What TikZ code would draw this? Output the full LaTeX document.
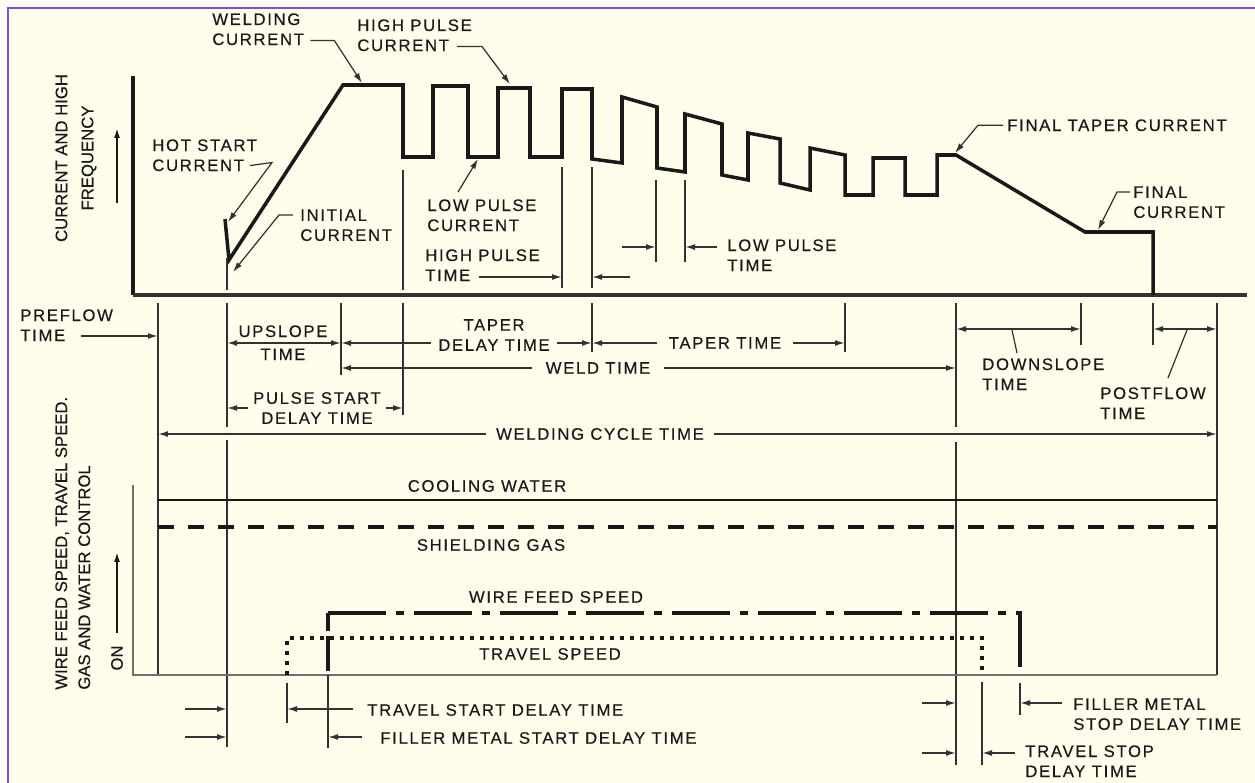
\documentclass[tikz,border=0pt]{standalone}
\usepackage{fontspec}
\setmainfont[FakeBold=0.3]{Liberation Sans}
\newfontfamily\wideface[LetterSpace=10,FakeBold=0.3]{Liberation Sans}
\usetikzlibrary{arrows.meta,positioning,calc}
\definecolor{paper}{RGB}{255,253,235}
\definecolor{frame}{RGB}{130,80,200}
\definecolor{ink}{RGB}{25,25,25}
\definecolor{rule}{RGB}{50,50,50}
\definecolor{axisgray}{RGB}{110,110,110}

\begin{document}
\begin{tikzpicture}[x=0.02cm, y=-0.02cm,
    >={Latex[length=2mm,width=1.2mm]},
    lbl/.style={font=\wideface\fontsize{9.5}{11.4}\selectfont, text=ink, inner sep=0pt, align=left},
    ctr/.style={lbl, align=center},
    gaplbl/.style={ctr, fill=paper, inner ysep=1pt, inner xsep=4pt},
    axlbl/.style={font=\fontsize{9.5}{11.4}\selectfont, text=ink, inner sep=0pt, rotate=90},
    wave/.style={line width=2pt, ink, line join=miter},
    guide/.style={line width=0.9pt, rule},
    dim/.style={line width=0.9pt, rule, <->},
    ptr/.style={line width=0.9pt, rule, <-},
    lead/.style={line width=0.7pt, rule}
]
\useasboundingbox (0,0) rectangle (1255,783);
\fill[white] (0,0) rectangle (1255,783);
\fill[paper] (8,8) rectangle (1255,783);
\draw[frame, line width=1.6pt] (8,783) -- (8,8) -- (1255,8);

% time marks
\coordinate (xPre) at (158,0);
\coordinate (xHot) at (227,0);
\coordinate (xUp) at (341,0);
\coordinate (xPulse) at (403,0);
\coordinate (xHigh) at (562,0);
\coordinate (xTaper) at (592,0);
\coordinate (xLowA) at (656,0);
\coordinate (xLowB) at (685,0);
\coordinate (xTaperEnd) at (845,0);
\coordinate (xDown) at (956,0);
\coordinate (xDownEnd) at (1081,0);
\coordinate (xOff) at (1153,0);
\coordinate (xPost) at (1217,0);
\coordinate (xTrvOn) at (287,0);
\coordinate (xWireOn) at (328,0);
\coordinate (xTrvOff) at (982,0);
\coordinate (xWireOff) at (1020,0);

% current chart
\draw[line width=1.8pt, ink] (133,76) -- (133,295);
\draw[line width=1.8pt, rule] (133,295) -- (1247,295);
\node[axlbl, align=center] (curax) at (76,158) {CURRENT AND HIGH\\[0.12cm]FREQUENCY};
\draw[->, line width=1pt, ink] (117,203) -- (117,128);

\draw[wave] (225,219) -- (229,260) -- (343,85) -- (403,85) -- (403,157) -- (433,157)
  -- (433,86) -- (468,86) -- (468,157) -- (498,157) -- (498,88) -- (530,88)
  -- (530,157) -- (562,157) -- (562,89) -- (592,89) -- (592,159) -- (622,163)
  -- (622,97) -- (657,107) -- (657,168) -- (685,172) -- (685,114) -- (722,124)
  -- (722,175) -- (748,180) -- (748,133) -- (780,139) -- (780,183) -- (810,190)
  -- (810,148) -- (845,155) -- (845,195) -- (873,195) -- (873,158) -- (905,158)
  -- (905,195) -- (937,195) -- (937,155) -- (956,155) -- (1085,232) -- (1153,232)
  -- (1153,295);

\coordinate (tipWeld) at (362,83);
\coordinate (tipHigh) at (510,84);
\coordinate (tipHot) at (228,222);
\coordinate (tipInit) at (233,272);
\coordinate (tipLow) at (478,159);
\coordinate (tipFinTaper) at (955,153);
\coordinate (tipFinal) at (1098,230);

\draw[guide] (xHot |- 0,258) -- (xHot |- 0,290);
\draw[guide] (xPulse |- 0,170) -- (xPulse |- 0,290);
\draw[guide] (xHigh |- 0,167) -- (xHigh |- 0,288);
\draw[guide] (xTaper |- 0,167) -- (xTaper |- 0,288);
\draw[guide] (xLowA |- 0,180) -- (xLowA |- 0,262);
\draw[guide] (xLowB |- 0,180) -- (xLowB |- 0,262);

\node[lbl, anchor=north west] (wc) at (212,13) {WELDING\\CURRENT};
\node[lbl, anchor=north west] (hpc) at (357,19) {HIGH PULSE\\CURRENT};
\node[lbl, anchor=north west] (hsc) at (152,139) {HOT START\\CURRENT};
\node[lbl, anchor=north west] (ic) at (300,209) {INITIAL\\CURRENT};
\node[lbl, anchor=north west] (lpc) at (427,199) {LOW PULSE\\CURRENT};
\node[lbl, anchor=north west] (hpt) at (425,249) {HIGH PULSE\\TIME};
\node[lbl, anchor=north west] (lpt) at (727,239) {LOW PULSE\\TIME};
\node[lbl, anchor=north west] (ftc) at (1007,119) {FINAL TAPER CURRENT};
\node[lbl, anchor=north west] (fc) at (1133,186) {FINAL\\CURRENT};

\draw[lead, ->] ([shift={(6,-5)}]wc.south east) -- ++(24,0) -- (tipWeld);
\draw[lead, ->] ([shift={(100,-5)}]hpc.south west) -- ++(25,0) -- (tipHigh);
\draw[lead, ->] ([shift={(98,-6)}]hsc.south west) -- ++(22,-3) -- (tipHot);
\draw[lead, ->] ([shift={(-7,6)}]ic.north west) -- ++(-14,0) -- (tipInit);
\draw[lead, ->] ([shift={(31,-7)}]lpc.north west) -- (tipLow);
\draw[lead, ->] ([shift={(-4,0)}]ftc.west) -- ++(-25,0) -- (tipFinTaper);
\draw[lead, ->] ([shift={(-3,6)}]fc.north west) -- ++(-13,0) -- (tipFinal);

\draw[ptr] (xHigh |- 0,277) -- ++(-83,0);
\draw[ptr] (xTaper |- 0,277) -- ++(38,0);
\draw[ptr] (xLowA |- 0,247) -- ++(-34,0);
\draw[ptr] (xLowB |- 0,247) -- ++(32,0);

% timing section
\draw[guide] (xPre |- 0,303) -- (xPre |- 0,675);
\draw[guide] (xHot |- 0,303) -- (xHot |- 0,427) (xHot |- 0,440) -- (xHot |- 0,747);
\draw[guide] (xUp |- 0,303) -- (xUp |- 0,375);
\draw[guide] (xPulse |- 0,303) -- (xPulse |- 0,415);
\draw[guide] (xTaper |- 0,303) -- (xTaper |- 0,352);
\draw[guide] (xTaperEnd |- 0,303) -- (xTaperEnd |- 0,352);
\draw[guide] (xDown |- 0,303) -- (xDown |- 0,427) (xDown |- 0,442) -- (xDown |- 0,765);
\draw[guide] (xDownEnd |- 0,303) -- (xDownEnd |- 0,345);
\draw[guide] (xOff |- 0,303) -- (xOff |- 0,345);
\draw[guide] (xPost |- 0,303) -- (xPost |- 0,675);

\draw[ptr] (xPre |- 0,336) -- ++(-77,0);
\draw[dim] (xHot |- 0,343) -- (xUp |- 0,343);
\draw[dim] (xUp |- 0,343) -- (xTaper |- 0,343);
\draw[dim] (xTaper |- 0,343) -- (xTaperEnd |- 0,343);
\draw[dim] (xUp |- 0,368) -- (xDown |- 0,368);
\draw[dim] (xHot |- 0,408) -- (xPulse |- 0,408);
\draw[dim] (xPre |- 0,434) -- (xPost |- 0,434);
\draw[dim] (xDown |- 0,329) -- (xDownEnd |- 0,329);
\draw[dim] (xOff |- 0,329) -- (xPost |- 0,329);

\node[lbl, anchor=north west] (pre) at (20,309) {PREFLOW\\TIME};
\node[ctr, anchor=north] (ups) at (283,325) {UPSLOPE\\[0.06cm]TIME};
\node[gaplbl] (tdl) at (494,335) {TAPER\\DELAY TIME};
\node[gaplbl, inner xsep=7pt] (tt) at (725,343) {TAPER TIME};
\node[gaplbl, inner xsep=8pt] (wt) at (598,368) {WELD TIME};
\node[gaplbl, inner xsep=3pt] (psd) at (317,408) {PULSE START\\DELAY TIME};
\node[gaplbl, inner xsep=6pt] (wct) at (600,434) {WELDING CYCLE TIME};
\node[lbl, anchor=north west] (ds) at (982,358) {DOWNSLOPE\\TIME};
\node[lbl, anchor=north west] (pf) at (1100,387) {POSTFLOW\\TIME};

\draw[lead] ([shift={(35,-5)}]ds.north west) -- ([shift={(30,-28)}]ds.north west);
\draw[lead] ([shift={(68,-9)}]pf.north west) -- ([shift={(87,-57)}]pf.north west);

% control chart
\draw[line width=0.8pt, axisgray] (133,485) -- (133,675) -- (xPost |- 0,675);
\node[axlbl, align=left, anchor=north west] (ctlax) at (55,690)
  {WIRE FEED SPEED, TRAVEL SPEED.\\[0.06cm]GAS AND WATER CONTROL};
\node[axlbl] (on) at (117,658) {ON};
\draw[->, line width=1pt, ink] (117,633) -- (117,552);

\draw[line width=1.6pt, ink] (xPre |- 0,500) -- (xPost |- 0,500);
\draw[line width=2pt, ink, dash pattern=on 0.32cm off 0.28cm] (xPre |- 0,527) -- (xPost |- 0,527);
\draw[line width=2pt, ink, dash pattern=on 1.16cm off 0.2cm on 0.16cm off 0.2cm]
  (xWireOn |- 0,613) -- (xWireOff |- 0,613) -- (xWireOff |- 0,675);
\draw[line width=2pt, ink, dash pattern=on 0.36cm off 0.1cm on 0.7cm off 0.1cm]
  (xWireOn |- 0,613) -- (xWireOn |- 0,675);
\draw[line width=2.2pt, ink, dash pattern=on 0.08cm off 0.12cm]
  (xTrvOn |- 0,675) -- (xTrvOn |- 0,638) -- (xTrvOff |- 0,638) -- (xTrvOff |- 0,675);

\node[lbl] (cw) at (487,486) {COOLING WATER};
\node[lbl] (sg) at (491,545) {SHIELDING GAS};
\node[lbl] (wf) at (556,597) {WIRE FEED SPEED};
\node[lbl] (ts) at (550,654) {TRAVEL SPEED};

% delay marks
\draw[guide] (xTrvOn |- 0,683) -- (xTrvOn |- 0,723);
\draw[guide] (xWireOn |- 0,675) -- (xWireOn |- 0,748);
\draw[guide] (xTrvOff |- 0,682) -- (xTrvOff |- 0,765);
\draw[guide] (xWireOff |- 0,683) -- (xWireOff |- 0,715);

\draw[ptr] (xHot |- 0,709) -- ++(-42,0);
\draw[ptr] (xHot |- 0,737) -- ++(-42,0);
\draw[ptr] (xTrvOn |- 0,709) -- ++(66,0);
\draw[ptr] (xWireOn |- 0,737) -- ++(34,0);
\draw[ptr] (xDown |- 0,703) -- ++(-34,0);
\draw[ptr] (xDown |- 0,753) -- ++(-34,0);
\draw[ptr] (xTrvOff |- 0,753) -- ++(33,0);
\draw[ptr] (xWireOff |- 0,703) -- ++(42,0);

\node[lbl, anchor=west] (tsd) at (367,710) {TRAVEL START DELAY TIME};
\node[lbl, anchor=west] (fsd) at (380,738) {FILLER METAL START DELAY TIME};
\node[lbl, anchor=north west] (fmd) at (1073,698) {FILLER METAL\\STOP DELAY TIME};
\node[lbl, anchor=north west] (tsp) at (1025,745) {TRAVEL STOP\\DELAY TIME};
\end{tikzpicture}
\end{document}
